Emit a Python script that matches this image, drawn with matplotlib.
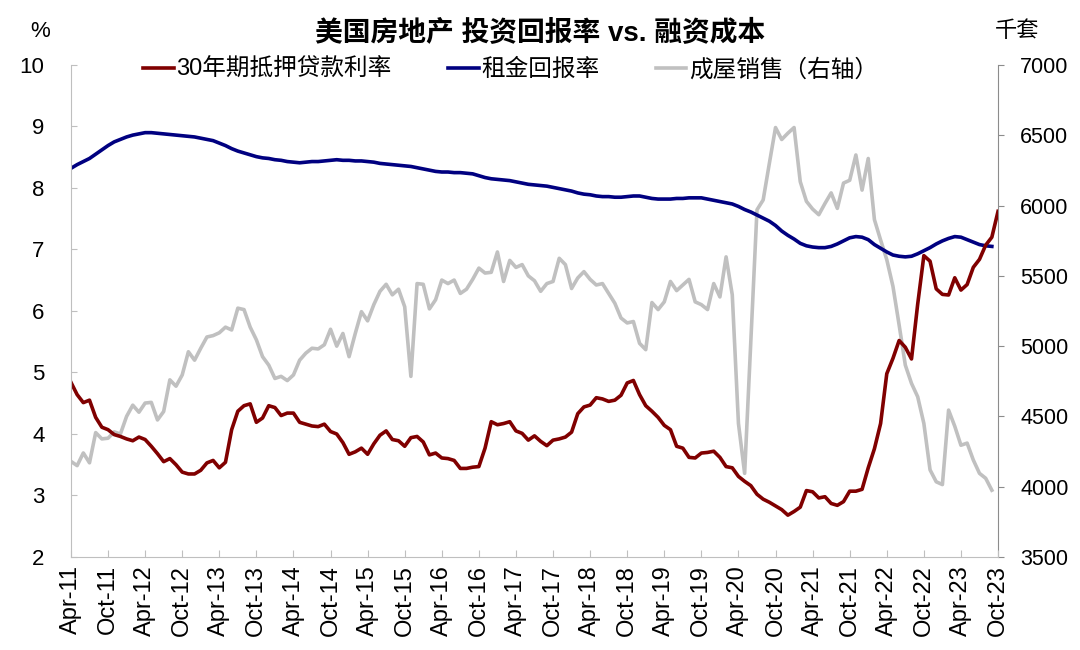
import matplotlib
matplotlib.use('Agg')
import matplotlib.pyplot as plt
import numpy as np

plt.rcParams['font.family'] = ['Liberation Sans', 'Noto Sans CJK SC', 'DejaVu Sans']

# 月度数据: 2011-04 ~ 2023-10
tick_labels = ['Apr-11', 'Oct-11', 'Apr-12', 'Oct-12', 'Apr-13', 'Oct-13', 'Apr-14', 'Oct-14',
               'Apr-15', 'Oct-15', 'Apr-16', 'Oct-16', 'Apr-17', 'Oct-17', 'Apr-18', 'Oct-18',
               'Apr-19', 'Oct-19', 'Apr-20', 'Oct-20', 'Apr-21', 'Oct-21', 'Apr-22', 'Oct-22',
               'Apr-23', 'Oct-23']

# 30年期抵押贷款利率 (%)
mortgage = [4.84, 4.64, 4.51, 4.55, 4.27, 4.11, 4.07, 3.99, 3.96,
            3.92, 3.89, 3.95, 3.91, 3.80, 3.68, 3.55, 3.60, 3.50, 3.38, 3.35, 3.35,
            3.41, 3.53, 3.57, 3.45, 3.54, 4.07, 4.37, 4.46, 4.49, 4.19, 4.26, 4.46,
            4.43, 4.30, 4.34, 4.34, 4.19, 4.16, 4.13, 4.12, 4.16, 4.04, 4.00, 3.86,
            3.67, 3.71, 3.77, 3.67, 3.84, 3.98, 4.05, 3.91, 3.89, 3.80, 3.94, 3.96,
            3.87, 3.66, 3.69, 3.61, 3.60, 3.57, 3.44, 3.44, 3.46, 3.47, 3.77, 4.20,
            4.15, 4.17, 4.20, 4.05, 4.01, 3.90, 3.97, 3.88, 3.81, 3.90, 3.92, 3.95,
            4.03, 4.33, 4.44, 4.47, 4.59, 4.57, 4.53, 4.55, 4.63, 4.83, 4.87, 4.64,
            4.46, 4.37, 4.27, 4.14, 4.07, 3.80, 3.77, 3.62, 3.61, 3.69, 3.70, 3.72,
            3.62, 3.47, 3.45, 3.31, 3.23, 3.16, 3.02, 2.94, 2.89, 2.83, 2.77, 2.68,
            2.74, 2.81, 3.08, 3.06, 2.96, 2.98, 2.87, 2.84, 2.90, 3.07, 3.07, 3.10,
            3.45, 3.76, 4.17, 4.98, 5.23, 5.52, 5.41, 5.22, 6.11, 6.90, 6.81, 6.36,
            6.27, 6.26, 6.54, 6.34, 6.43, 6.71, 6.84, 7.07, 7.20, 7.62]

# 租金回报率 (%)
rent_yield = [8.32, 8.38, 8.43, 8.48, 8.55, 8.62, 8.69, 8.75, 8.79, 8.83, 8.86, 8.88,
              8.90, 8.90, 8.89, 8.88, 8.87, 8.86, 8.85, 8.84, 8.83, 8.81, 8.79, 8.77,
              8.73, 8.69, 8.64, 8.60, 8.57, 8.54, 8.51, 8.49, 8.48, 8.46, 8.45, 8.43,
              8.42, 8.41, 8.42, 8.43, 8.43, 8.44, 8.45, 8.46, 8.45, 8.45, 8.44, 8.44,
              8.43, 8.42, 8.40, 8.39, 8.38, 8.37, 8.36, 8.35, 8.33, 8.31, 8.29, 8.27,
              8.26, 8.26, 8.25, 8.25, 8.24, 8.23, 8.20, 8.17, 8.15, 8.14, 8.13, 8.12,
              8.10, 8.08, 8.06, 8.05, 8.04, 8.03, 8.01, 7.99, 7.97, 7.95, 7.92, 7.90,
              7.89, 7.87, 7.86, 7.86, 7.85, 7.85, 7.86, 7.87, 7.87, 7.85, 7.83, 7.82,
              7.82, 7.82, 7.83, 7.83, 7.84, 7.84, 7.84, 7.82, 7.80, 7.78, 7.76, 7.74,
              7.70, 7.65, 7.61, 7.56, 7.51, 7.46, 7.39, 7.30, 7.23, 7.17, 7.10, 7.06,
              7.04, 7.03, 7.03, 7.05, 7.09, 7.14, 7.19, 7.21, 7.20, 7.16, 7.08, 7.02,
              6.96, 6.91, 6.89, 6.88, 6.89, 6.93, 6.98, 7.03, 7.09, 7.14, 7.18, 7.21,
              7.20, 7.16, 7.12, 7.08, 7.06, 7.05]

# 成屋销售 (千套, 右轴)
sales = [4180, 4150, 4240, 4170, 4385, 4340, 4345, 4390, 4375, 4500, 4580, 4530,
         4595, 4600, 4475, 4535, 4760, 4715, 4795, 4960, 4900, 4985, 5065, 5075,
         5095, 5135, 5115, 5270, 5260, 5135, 5045, 4925, 4865, 4770, 4785, 4755,
         4795, 4900, 4950, 4985, 4980, 5010, 5120, 5000, 5090, 4925, 5090, 5245,
         5180, 5295, 5390, 5440, 5365, 5405, 5280, 4785, 5445, 5440, 5265, 5330,
         5470, 5445, 5470, 5375, 5405, 5475, 5555, 5520, 5525, 5670, 5460, 5610,
         5560, 5580, 5500, 5465, 5390, 5445, 5460, 5625, 5580, 5410, 5485, 5530,
         5475, 5435, 5445, 5375, 5305, 5200, 5165, 5175, 5020, 4975, 5310, 5260,
         5315, 5460, 5395, 5435, 5475, 5315, 5295, 5260, 5445, 5350, 5635, 5365,
         4450, 4095, 5040, 5970, 6040, 6300, 6555, 6470, 6515, 6555, 6170, 6030,
         5975, 5935, 6015, 6090, 5980, 6160, 6180, 6360, 6110, 6335, 5900, 5755,
         5615, 5425, 5150, 4865, 4735, 4640, 4450, 4120, 4035, 4015, 4545, 4430,
         4295, 4310, 4190, 4095, 4060, 3975]

red = '#800000'
blue = '#000080'
grey = '#c0c0c0'

fig = plt.figure(figsize=(10.8, 6.5), dpi=100)
ax = fig.add_axes([0.0657, 0.1431, 0.8584, 0.7569])
ax2 = ax.twinx()
# 左轴的线画在灰线之上
ax.set_zorder(ax2.get_zorder() + 1)
ax.patch.set_visible(False)

l3, = ax2.plot(np.arange(len(sales)), sales, color=grey, lw=2.6)
l2, = ax.plot(np.arange(len(rent_yield)), rent_yield, color=blue, lw=2.6)
l1, = ax.plot(np.arange(len(mortgage)), mortgage, color=red, lw=2.6)

ax.set_xlim(0, 150)
ax.set_ylim(2, 10)
ax2.set_ylim(3500, 7000)
ax.set_yticks(range(2, 11))
ax2.set_yticks(range(3500, 7001, 500))
ax.set_xticks(np.arange(0, 151, 6))
ax.set_xticklabels(tick_labels, rotation=90)

for s in ['top', 'right']:
    ax.spines[s].set_visible(False)
for s in ['top', 'left', 'bottom']:
    ax2.spines[s].set_visible(False)
ax.spines['left'].set_color('#bfbfbf')
ax.spines['bottom'].set_color('#bfbfbf')
ax2.spines['right'].set_color('#8c8c8c')

ax.tick_params(axis='y', direction='in', length=4, color='#bfbfbf', labelsize=16, pad=19)
ax.tick_params(axis='x', direction='in', length=5, color='#bfbfbf', labelsize=17, pad=6)
ax2.tick_params(axis='y', direction='out', length=4, color='#8c8c8c', labelsize=15.5, pad=12)

ax.legend([l1, l2, l3], ['30年期抵押贷款利率', '租金回报率', '成屋销售（右轴）'],
          loc='center', bbox_to_anchor=(0.474, 0.99), ncol=3, frameon=False,
          fontsize=17, handlelength=1.3, handletextpad=0.1, columnspacing=2.4)

fig.text(0.5, 0.948, '美国房地产 投资回报率 vs. 融资成本', ha='center', va='center',
         fontsize=20, fontweight='bold')
fig.text(0.037, 0.952, '%', ha='center', va='center', fontsize=16)
fig.text(0.942, 0.952, '千套', ha='center', va='center', fontsize=16)

fig.savefig('out.png', dpi=100)
